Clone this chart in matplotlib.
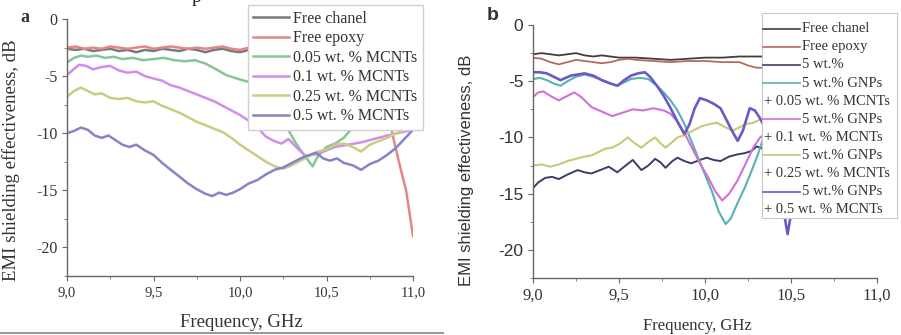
import matplotlib
matplotlib.use('Agg')
import matplotlib.pyplot as plt
from matplotlib.ticker import MultipleLocator, FuncFormatter
from matplotlib.patches import Rectangle
from matplotlib.lines import Line2D

plt.rcParams['font.family'] = 'Liberation Serif'

# ---------------- panel a : MCNTs only ----------------
chan_a_f = [9.0, 9.05, 9.1, 9.15, 9.2, 9.25, 9.3, 9.35, 9.4, 9.45, 9.5, 9.55, 9.6, 9.65, 9.7,
            9.75, 9.8, 9.85, 9.9, 9.95, 10.0, 10.05, 10.1, 10.2, 10.4, 10.6, 10.8, 11.0]
chan_a_v = [-2.6, -2.7, -2.6, -2.8, -2.7, -2.6, -2.8, -2.7, -2.9, -2.7, -2.8, -2.6, -2.7, -2.8, -2.6,
            -2.7, -2.9, -2.7, -2.6, -2.8, -2.9, -2.7, -2.8, -2.7, -2.8, -2.7, -2.8, -2.8]

epoxy_a_f = [9.0, 9.05, 9.1, 9.15, 9.2, 9.25, 9.3, 9.35, 9.4, 9.45, 9.5, 9.55, 9.6, 9.65, 9.7,
             9.75, 9.8, 9.85, 9.9, 9.95, 10.0, 10.05, 10.1, 10.3, 10.5, 10.7, 10.8, 10.84, 10.88,
             10.92, 10.96, 11.0]
epoxy_a_v = [-2.5, -2.4, -2.6, -2.5, -2.6, -2.4, -2.5, -2.6, -2.5, -2.4, -2.6, -2.5, -2.4, -2.5, -2.6,
             -2.5, -2.6, -2.5, -2.4, -2.6, -2.7, -2.5, -2.6, -2.6, -2.7, -2.8, -3.0, -5.5, -10.0,
             -12.6, -15.0, -19.0]

mc005_a_f = [9.0, 9.04, 9.08, 9.12, 9.17, 9.22, 9.27, 9.32, 9.38, 9.44, 9.5, 9.56, 9.62, 9.68,
             9.74, 9.8, 9.85, 9.92, 10.0, 10.05, 10.1, 10.14, 10.2, 10.26, 10.32, 10.37, 10.42,
             10.45, 10.5, 10.55, 10.6, 10.65, 10.75, 10.9, 11.0]
mc005_a_v = [-3.8, -3.4, -3.2, -3.3, -3.2, -3.4, -3.3, -3.5, -3.4, -3.6, -3.5, -3.4, -3.6, -3.7,
             -3.6, -3.9, -4.3, -4.9, -5.3, -5.5, -5.6, -6.3, -7.6, -9.2, -10.8, -11.9, -12.9,
             -12.0, -11.2, -10.9, -10.4, -9.5, -9.2, -9.0, -9.0]

mc01_a_f = [9.0, 9.03, 9.07, 9.11, 9.15, 9.2, 9.25, 9.3, 9.35, 9.4, 9.45, 9.5, 9.55, 9.6, 9.65,
            9.7, 9.75, 9.8, 9.85, 9.9, 9.95, 10.0, 10.05, 10.1, 10.15, 10.2, 10.24, 10.28, 10.33,
            10.38, 10.45, 10.55, 10.7, 10.85, 11.0]
mc01_a_v = [-4.9, -4.5, -4.0, -4.1, -4.4, -4.2, -4.1, -4.5, -4.7, -4.6, -5.0, -5.2, -5.4, -5.8, -6.0,
            -6.3, -6.6, -6.9, -7.2, -7.6, -8.0, -8.4, -8.9, -9.5, -10.3, -10.7, -10.9, -10.5, -11.3,
            -12.0, -11.8, -11.2, -10.8, -10.2, -9.7]

mc025_a_f = [9.0, 9.04, 9.08, 9.12, 9.16, 9.2, 9.25, 9.3, 9.35, 9.4, 9.45, 9.5, 9.55, 9.6, 9.65,
             9.7, 9.75, 9.8, 9.85, 9.9, 9.95, 10.0, 10.05, 10.1, 10.15, 10.2, 10.25, 10.3, 10.35,
             10.4, 10.45, 10.5, 10.55, 10.6, 10.65, 10.7, 10.75, 10.8, 10.85, 10.9, 11.0]
mc025_a_v = [-6.8, -6.3, -6.0, -6.3, -6.6, -6.5, -6.9, -7.0, -6.9, -7.2, -7.3, -7.2, -7.6, -7.9, -8.2,
             -8.6, -9.0, -9.3, -9.6, -9.9, -10.4, -11.0, -11.5, -12.0, -12.5, -12.9, -13.1, -12.8,
             -12.4, -12.0, -11.6, -11.4, -11.0, -10.9, -11.2, -11.6, -11.0, -10.7, -10.4, -10.0, -9.5]

mc05_a_f = [9.0, 9.04, 9.08, 9.12, 9.16, 9.2, 9.24, 9.28, 9.32, 9.36, 9.4, 9.45, 9.5, 9.55, 9.6,
            9.65, 9.7, 9.75, 9.8, 9.84, 9.88, 9.92, 9.96, 10.0, 10.05, 10.1, 10.15, 10.2, 10.25,
            10.3, 10.35, 10.4, 10.44, 10.48, 10.52, 10.56, 10.6, 10.65, 10.7, 10.75, 10.8, 10.85,
            10.9, 10.95, 11.0]
mc05_a_v = [-10.0, -9.8, -9.5, -9.7, -10.2, -10.4, -10.2, -10.6, -11.0, -11.2, -11.0, -11.5, -11.9,
            -12.6, -13.2, -13.8, -14.4, -14.9, -15.3, -15.5, -15.2, -15.4, -15.2, -14.9, -14.4,
            -14.1, -13.6, -13.2, -13.0, -12.6, -12.2, -11.9, -11.7, -12.2, -12.4, -12.2, -12.6,
            -12.8, -13.2, -12.7, -12.4, -11.9, -11.3, -10.5, -9.7]

# ---------------- panel b : GNPs + MCNTs ----------------
chan_b_f = [9.0, 9.05, 9.1, 9.15, 9.2, 9.25, 9.3, 9.35, 9.4, 9.5, 9.6, 9.7, 9.8, 9.9, 10.0,
            10.1, 10.2, 10.33, 10.4]
chan_b_v = [-2.6, -2.5, -2.6, -2.7, -2.6, -2.5, -2.7, -2.8, -2.7, -2.9, -2.9, -3.0, -3.1, -3.0,
            -2.9, -2.9, -2.8, -2.8, -2.8]

epoxy_b_f = [9.0, 9.05, 9.1, 9.15, 9.2, 9.25, 9.3, 9.35, 9.4, 9.45, 9.5, 9.55, 9.6, 9.7, 9.8,
             9.9, 10.0, 10.1, 10.2, 10.25, 10.3, 10.35, 10.4]
epoxy_b_v = [-2.9, -3.0, -3.3, -3.5, -3.3, -3.1, -3.2, -3.3, -3.4, -3.3, -3.1, -3.0, -3.1, -3.2,
             -3.3, -3.2, -3.2, -3.3, -3.3, -3.6, -3.8, -3.8, -3.8]

wt5_b_f = [9.0, 9.03, 9.07, 9.11, 9.15, 9.2, 9.26, 9.3, 9.34, 9.39, 9.44, 9.49, 9.53, 9.58, 9.63,
           9.67, 9.71, 9.74, 9.77, 9.81, 9.84, 9.88, 9.92, 9.97, 10.01, 10.05, 10.09, 10.14,
           10.19, 10.23, 10.27, 10.3, 10.34, 10.4]
wt5_b_v = [-14.5, -14.0, -13.6, -13.5, -13.7, -13.3, -12.9, -13.1, -13.2, -12.9, -12.6, -13.1,
           -12.6, -12.0, -12.9, -12.5, -11.9, -12.2, -12.7, -12.1, -11.8, -12.1, -12.3, -12.0,
           -11.8, -12.0, -12.1, -11.7, -11.5, -11.4, -11.2, -10.8, -11.0, -11.0]

g005_b_f = [9.0, 9.04, 9.08, 9.12, 9.16, 9.2, 9.25, 9.3, 9.35, 9.4, 9.45, 9.49, 9.53, 9.57, 9.62,
            9.67, 9.72, 9.76, 9.8, 9.84, 9.88, 9.92, 9.96, 10.0, 10.04, 10.08, 10.12, 10.15,
            10.19, 10.23, 10.27, 10.31, 10.34, 10.4]
g005_b_v = [-4.8, -4.7, -4.9, -5.2, -5.4, -5.0, -4.6, -4.4, -4.6, -4.9, -5.2, -5.4, -5.1, -4.8,
            -4.7, -4.8, -5.4, -6.0, -6.7, -7.6, -8.8, -10.3, -11.8, -13.3, -14.8, -16.6, -17.7,
            -17.2, -15.8, -14.5, -13.0, -11.4, -10.0, -9.0]

g01_b_f = [9.0, 9.03, 9.06, 9.1, 9.15, 9.2, 9.24, 9.28, 9.34, 9.4, 9.46, 9.52, 9.58, 9.64, 9.7,
           9.76, 9.8, 9.84, 9.88, 9.92, 9.97, 10.02, 10.06, 10.1, 10.14, 10.19, 10.24, 10.28,
           10.32, 10.36, 10.4]
g01_b_v = [-6.4, -6.0, -5.9, -6.3, -6.7, -6.3, -6.0, -6.4, -7.3, -7.7, -8.1, -7.8, -7.5, -7.6,
           -7.4, -7.6, -7.9, -8.6, -9.6, -10.8, -12.3, -13.6, -14.8, -15.6, -15.0, -13.8, -12.2,
           -10.9, -10.0, -9.6, -9.4]

g025_b_f = [9.0, 9.05, 9.1, 9.15, 9.2, 9.25, 9.3, 9.34, 9.38, 9.42, 9.46, 9.5, 9.55, 9.59, 9.63,
            9.67, 9.71, 9.74, 9.77, 9.81, 9.84, 9.88, 9.93, 9.98, 10.03, 10.07, 10.12, 10.16,
            10.2, 10.24, 10.28, 10.32, 10.4]
g025_b_v = [-12.5, -12.4, -12.6, -12.4, -12.1, -11.9, -11.7, -11.6, -11.3, -11.0, -10.9, -10.6,
            -10.0, -10.5, -10.9, -10.4, -10.0, -10.5, -10.9, -10.4, -10.0, -9.8, -9.4, -9.0, -8.8,
            -8.7, -9.1, -9.4, -9.1, -8.8, -8.7, -8.4, -8.5]

g05_b_f = [9.0, 9.04, 9.08, 9.12, 9.16, 9.22, 9.3, 9.35, 9.4, 9.45, 9.49, 9.53, 9.57, 9.61, 9.65,
           9.68, 9.72, 9.76, 9.8, 9.84, 9.88, 9.91, 9.94, 9.97, 10.01, 10.05, 10.09, 10.12, 10.16,
           10.19, 10.22, 10.26, 10.29, 10.32, 10.36, 10.4, 10.44, 10.48, 10.52, 10.56]
g05_b_v = [-4.2, -4.2, -4.3, -4.6, -4.9, -4.5, -4.3, -4.5, -4.9, -5.2, -5.4, -4.9, -4.5, -4.3,
           -4.2, -4.6, -5.4, -6.3, -7.4, -8.6, -9.7, -8.8, -7.4, -6.5, -6.7, -7.0, -7.4, -8.3,
           -9.5, -10.3, -9.4, -7.4, -7.6, -8.3, -9.5, -11.5, -15.0, -18.6, -15.0, -11.5]

labels_a = ['Free chanel', 'Free epoxy', '0.05 wt. % MCNTs', '0.1 wt. % MCNTs',
            '0.25 wt. % MCNTs', '0.5 wt. % MCNTs']
colors_a = ['#78787f', '#e58686', '#86c696', '#d08eec', '#cccc80', '#8484c8']

labels_b = ['Free chanel', 'Free epoxy', '5 wt.%', '5 wt.% GNPs', '+ 0.05 wt. % MCNTs',
            '5 wt.% GNPs', '+ 0.1 wt. % MCNTs', '5 wt.% GNPs', '+ 0.25 wt. % MCNTs',
            '5 wt.% GNPs', '+ 0.5 wt. % MCNTs']
colors_b = ['#4a3a3a', '#b86a5a', '#3c3c6c', '#5ab0b4', '#d070d8', '#c8c878', '#6a5ac8']


def comma(x, pos):
    return f'{x:.1f}'.replace('.', ',')


def intlab(y, pos):
    return str(int(round(y)))


def style(ax, xsize, ysize, yfamily, xlsize, ylfamily, ylsize):
    ax.spines['top'].set_visible(False)
    ax.spines['right'].set_visible(False)
    for s in ['left', 'bottom']:
        ax.spines[s].set_color('#666666')
        ax.spines[s].set_linewidth(1.0)
    ax.set_xlim(9.0, 11.0)
    ax.set_ylim(-22.5, 0)
    ax.xaxis.set_major_locator(MultipleLocator(0.5))
    ax.xaxis.set_minor_locator(MultipleLocator(0.25))
    ax.yaxis.set_major_locator(MultipleLocator(5))
    ax.yaxis.set_minor_locator(MultipleLocator(2.5))
    ax.xaxis.set_major_formatter(FuncFormatter(comma))
    ax.yaxis.set_major_formatter(FuncFormatter(intlab))
    ax.tick_params(which='major', direction='out', length=3.5, width=0.8, color='#666666',
                   labelcolor='#333333')
    ax.tick_params(which='minor', direction='out', length=2, width=0.7, color='#888888')
    ax.tick_params(axis='x', labelsize=xsize)
    ax.tick_params(axis='y', labelsize=ysize)
    for t in ax.get_yticklabels():
        t.set_family(yfamily)
    ax.set_xlabel('Frequency, GHz', fontsize=xlsize, color='#333333', va='top')
    ax.set_ylabel('EMI shielding effectiveness, dB', fontsize=ylsize, color='#333333',
                  family=ylfamily)


fig = plt.figure(figsize=(9.01, 3.35), dpi=100)
axa = fig.add_axes([0.0744, 0.1761, 0.384, 0.767])
axb = fig.add_axes([0.5916, 0.1701, 0.3818, 0.7552])

# panel a
series_a = [(chan_a_f, chan_a_v), (epoxy_a_f, epoxy_a_v), (mc005_a_f, mc005_a_v),
            (mc01_a_f, mc01_a_v), (mc025_a_f, mc025_a_v), (mc05_a_f, mc05_a_v)]
for (f, v), c, lab in zip(series_a, colors_a, labels_a):
    axa.plot(f, v, color=c, lw=1.8, label=lab)
style(axa, 10.5, 11.5, 'Liberation Serif', 13.5, 'Liberation Serif', 13.5)
axa.xaxis.set_label_coords(0.503, -0.148)
axa.yaxis.set_label_coords(-0.136, 0.451)
leg = axa.legend(loc='upper right', bbox_to_anchor=(1.029, 1.054), borderaxespad=0,
                 fontsize=11.5, handlelength=2.25, handletextpad=0.25, borderpad=0.35,
                 labelspacing=0.22, fancybox=False, framealpha=1, edgecolor='#d0d0d0')
for t in leg.get_texts():
    t.set_color('#333333')

# panel b
series_b = [(chan_b_f, chan_b_v), (epoxy_b_f, epoxy_b_v), (wt5_b_f, wt5_b_v),
            (g005_b_f, g005_b_v), (g01_b_f, g01_b_v), (g025_b_f, g025_b_v), (g05_b_f, g05_b_v)]
widths_b = [1.3, 1.3, 1.4, 1.5, 1.5, 1.5, 1.9]
for (f, v), c, w in zip(series_b, colors_b, widths_b):
    axb.plot(f, v, color=c, lw=w)
style(axb, 12, 12.5, 'Liberation Sans', 12, 'Liberation Sans', 12)
axb.xaxis.set_label_coords(0.477, -0.16)
axb.yaxis.set_label_coords(-0.172, 0.427)

# origin style legend: the "+ ..." rows start at the box edge, so it is drawn by hand
axb.add_patch(Rectangle((0.666, 0.237), 0.392, 0.81, transform=axb.transAxes, facecolor='white',
                        edgecolor='#c8c8c8', lw=0.8, clip_on=False, zorder=5))
handle_colors = [colors_b[0], colors_b[1], colors_b[2], colors_b[3], None, colors_b[4], None,
                 colors_b[5], None, colors_b[6], None]
y0, y1 = 0.985, 0.27
for i, (lab, c) in enumerate(zip(labels_b, handle_colors)):
    y = y0 + (y1 - y0) * i / (len(labels_b) - 1)
    if c is not None:
        axb.add_line(Line2D([0.669, 0.776], [y, y], transform=axb.transAxes, color=c, lw=1.2,
                            clip_on=False, zorder=6))
        axb.text(0.781, y, lab, transform=axb.transAxes, va='center', fontsize=10.5,
                 color='#333333', zorder=6, clip_on=False)
    else:
        axb.text(0.671, y, lab, transform=axb.transAxes, va='center', fontsize=10.5,
                 color='#333333', zorder=6, clip_on=False)

fig.text(25 / 901, 1 - 17 / 335, 'a', fontsize=13, fontweight='bold', ha='center', va='center',
         color='#333333')
fig.text(493 / 901, 1 - 15 / 335, 'b', fontsize=14, fontweight='bold', ha='center', va='center',
         color='#333333', family='Liberation Sans')
fig.text(197 / 901, 1 - 2 / 335, 'p', fontsize=14, ha='center', va='baseline', color='#222222')
fig.add_artist(Line2D([0, 443 / 901], [1 - 333 / 335] * 2, transform=fig.transFigure,
                      color='#9a9a9a', lw=1.5))

fig.savefig('out.png', dpi=100)
